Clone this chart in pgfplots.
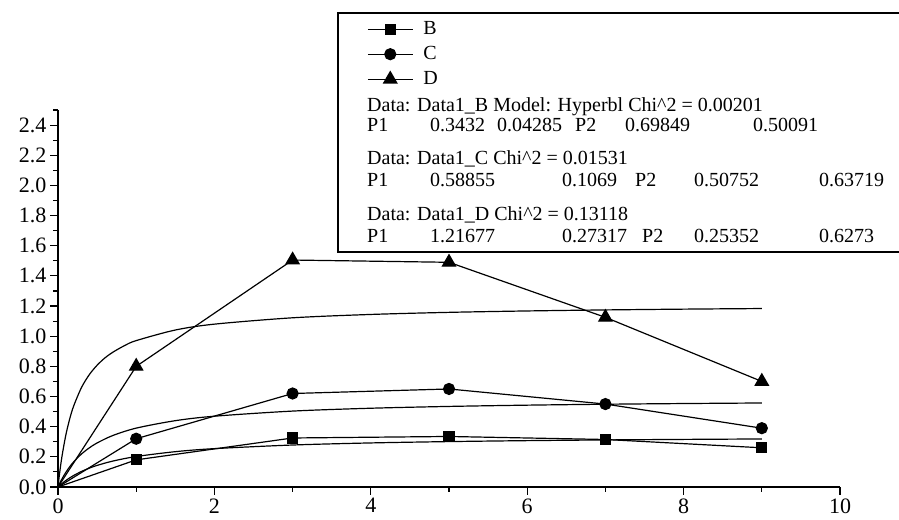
\documentclass[border=0pt]{standalone}
\usepackage{fontspec}
\setmainfont{Liberation Serif}
\usepackage{pgfplots}
\pgfplotsset{compat=1.18}
\newcommand{\lfont}{\fontsize{20bp}{24bp}\selectfont}

\begin{document}
\begin{tikzpicture}[x=1bp,y=1bp]
\useasboundingbox (0,0) rectangle (899,520);
\begin{axis}[
  at={(58bp,33bp)}, anchor=south west,
  scale only axis, width=782bp, height=377bp,
  xmin=0, xmax=10, ymin=0, ymax=2.5,
  axis lines*=left,
  axis line style={line width=1.2bp},
  tick align=outside,
  major tick length=8bp, minor tick length=5bp,
  every tick/.style={black, line width=1.1bp},
  xtick={0,2,4,6,8,10},
  minor xtick={1,3,5,7,9},
  ytick={0,0.2,0.4,0.6,0.8,1.0,1.2,1.4,1.6,1.8,2.0,2.2,2.4},
  minor ytick={0.1,0.3,0.5,0.7,0.9,1.1,1.3,1.5,1.7,1.9,2.1,2.3,2.5},
  yticklabel style={/pgf/number format/.cd, fixed, fixed zerofill, precision=1},
  /pgf/number format/assume math mode=true,
  ticklabel style={font=\fontsize{22bp}{26bp}\selectfont},
  clip=false,
  every axis plot/.append style={black, line width=1.2bp},
  legend style={at={(0.3951,1.2387)}, anchor=north west, draw=none, fill=none,
    inner sep=0pt, font=\lfont, row sep=7bp,
    nodes={inner sep=0pt, text height=14bp, text depth=4bp},
    /tikz/every odd column/.append style={column sep=10bp}},
  legend cell align=left,
  legend image code/.code={
    \draw[#1, mark indices={2}] plot coordinates {(0bp,0bp) (22.5bp,0bp) (45bp,0bp)};
  },
]
% fitted hyperbolas y = P1 x/(P2+x), values tabulated
\addplot[forget plot, smooth] coordinates {
  (0,0) (0.02,0.0096) (0.05,0.0229) (0.1,0.0430) (0.15,0.0607) (0.2,0.0764)
  (0.3,0.1031) (0.4,0.1250) (0.5,0.1432) (0.7,0.1718) (1,0.2021) (1.5,0.2342)
  (2,0.2544) (3,0.2784) (4,0.2922) (5,0.3011) (6,0.3074) (7,0.3121) (8,0.3156) (9,0.3185)};
\addplot[forget plot, smooth] coordinates {
  (0,0) (0.02,0.0223) (0.05,0.0528) (0.1,0.0969) (0.15,0.1343) (0.2,0.1664)
  (0.3,0.2187) (0.4,0.2594) (0.5,0.2921) (0.7,0.3412) (1,0.3904) (1.5,0.4398)
  (2,0.4694) (3,0.5034) (4,0.5223) (5,0.5343) (6,0.5427) (7,0.5488) (8,0.5534) (9,0.5571)};
\addplot[forget plot, smooth] coordinates {
  (0,0) (0.02,0.0890) (0.05,0.2004) (0.1,0.3442) (0.15,0.4523) (0.2,0.5366)
  (0.3,0.6595) (0.4,0.7448) (0.5,0.8074) (0.6,0.8560) (0.7,0.8933) (0.85,0.9373)
  (1,0.9707) (1.5,1.0409) (2,1.0799) (3,1.1220) (4,1.1442) (5,1.1581)
  (6,1.1674) (7,1.1742) (8,1.1794) (9,1.1834)};
% measured data (no marker at the origin)
\addplot[mark=square*, mark size=5bp, mark indices={2,3,4,5,6},
  mark options={solid, fill=black}] coordinates {
  (0,0) (1,0.18) (3,0.325) (5,0.335) (7,0.315) (9,0.26)};
\addlegendentry{B}
\addplot[mark=*, mark size=5.5bp, mark indices={2,3,4,5,6},
  mark options={solid, fill=black}] coordinates {
  (0,0) (1,0.32) (3,0.62) (5,0.65) (7,0.55) (9,0.39)};
\addlegendentry{C}
\addplot[mark=triangle*, mark size=7.5bp, mark indices={2,3,4,5,6},
  mark options={solid, fill=black}] coordinates {
  (0,0) (1,0.80) (3,1.505) (5,1.49) (7,1.125) (9,0.70)};
\addlegendentry{D}
\end{axis}
% fit report box (open on the right, it runs off the picture)
\draw[line width=1.5bp] (899,507) -- (338,507) -- (338,268) -- (899,268);
\begin{scope}[every node/.style={anchor=base west, inner sep=0pt, font=\lfont}]
\node at (367,408) {Data: Data1\_B Model: Hyperbl Chi\textasciicircum 2 = 0.00201};
\node at (367,388) {P1}; \node at (430,388) {0.3432}; \node at (497,388) {0.04285};
\node at (575,388) {P2}; \node at (625,388) {0.69849}; \node at (753,388) {0.50091};
\node at (367,355) {Data: Data1\_C Chi\textasciicircum 2 = 0.01531};
\node at (367,333) {P1}; \node at (430,333) {0.58855}; \node at (562,333) {0.1069};
\node at (635,333) {P2}; \node at (694,333) {0.50752}; \node at (819,333) {0.63719};
\node at (367,299) {Data: Data1\_D Chi\textasciicircum 2 = 0.13118};
\node at (367,277) {P1}; \node at (430,277) {1.21677}; \node at (562,277) {0.27317};
\node at (642,277) {P2}; \node at (694,277) {0.25352}; \node at (819,277) {0.6273};
\end{scope}
\end{tikzpicture}
\end{document}
